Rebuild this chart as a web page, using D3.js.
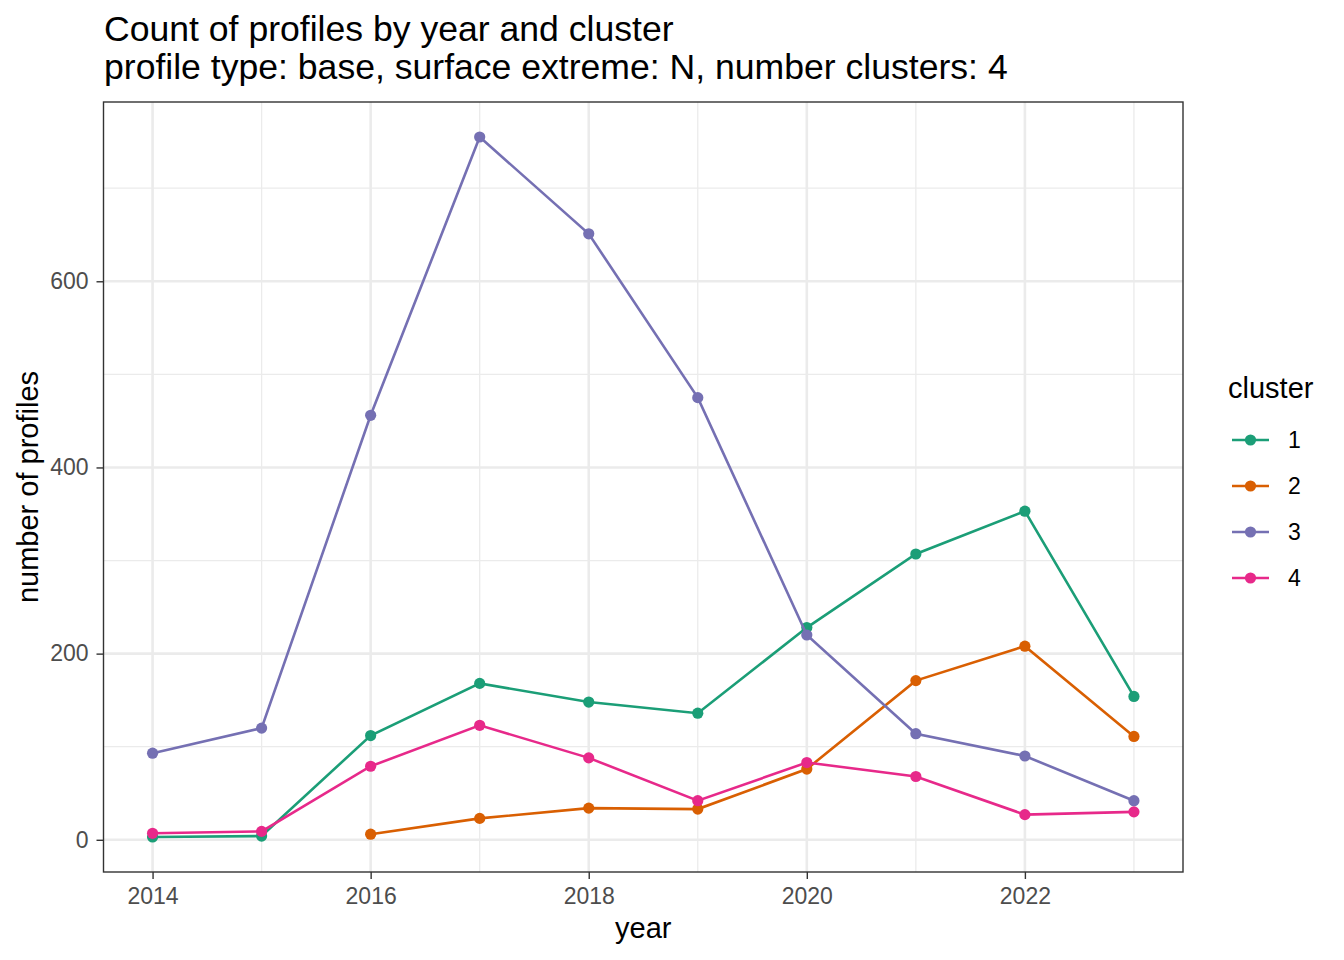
<!DOCTYPE html>
<html>
<head>
<meta charset="utf-8">
<script src="https://cdn.jsdelivr.net/npm/d3@7"></script>
<style>
  body { margin: 0; background: #fff; }
  text { font-family: "Liberation Sans", Arial, sans-serif; }
</style>
</head>
<body>
<svg id="chart" width="1344" height="960"></svg>
<script>
const years = [2014, 2015, 2016, 2017, 2018, 2019, 2020, 2021, 2022, 2023];
const clusters = ["1", "2", "3", "4"];
const colors = ["#1B9E77", "#D95F02", "#7570B3", "#E7298A"];

// counts per year, null = no profiles that year
const cluster1 = [3, 4, 112, 168, 148, 136, 228, 307, 353, 154];
const cluster2 = [null, null, 6, 23, 34, 33, 76, 171, 208, 111];
const cluster3 = [93, 120, 456, 755, 651, 475, 220, 114, 90, 42];
const cluster4 = [7, 9, 79, 123, 88, 42, 83, 68, 27, 30];

const xTicks = [2014, 2016, 2018, 2020, 2022];
const yTicks = [0, 200, 400, 600];

const series = [cluster1, cluster2, cluster3, cluster4].map((vals, i) => ({
  cluster: clusters[i],
  color: colors[i],
  points: years.map((y, j) => ({ year: y, count: vals[j] })).filter((d) => d.count !== null),
}));

const svg = d3.select("#chart");
const panel = { left: 103.5, right: 1183, top: 102, bottom: 872 };

// ggplot-style 5% expansion
const xExt = d3.extent(years);
const xPad = (xExt[1] - xExt[0]) * 0.05;
const x = d3.scaleLinear().domain([xExt[0] - xPad, xExt[1] + xPad]).range([panel.left, panel.right]);

const allCounts = series.flatMap((s) => s.points.map((p) => p.count));
const yExt = d3.extent(allCounts);
const yPad = (yExt[1] - yExt[0]) * 0.05;
const y = d3.scaleLinear().domain([yExt[0] - yPad, yExt[1] + yPad]).range([panel.bottom, panel.top]);

// grid
const grid = svg.append("g");
const minorX = xTicks.map((t) => t + 1);
const minorY = yTicks.map((t) => t + 100);
grid.selectAll(".mx").data(minorX).enter().append("line")
  .attr("x1", (d) => x(d)).attr("x2", (d) => x(d))
  .attr("y1", panel.top).attr("y2", panel.bottom)
  .attr("stroke", "#EBEBEB").attr("stroke-width", 1.3);
grid.selectAll(".my").data(minorY).enter().append("line")
  .attr("x1", panel.left).attr("x2", panel.right)
  .attr("y1", (d) => y(d)).attr("y2", (d) => y(d))
  .attr("stroke", "#EBEBEB").attr("stroke-width", 1.3);
grid.selectAll(".Mx").data(xTicks).enter().append("line")
  .attr("x1", (d) => x(d)).attr("x2", (d) => x(d))
  .attr("y1", panel.top).attr("y2", panel.bottom)
  .attr("stroke", "#EBEBEB").attr("stroke-width", 2.6);
grid.selectAll(".My").data(yTicks).enter().append("line")
  .attr("x1", panel.left).attr("x2", panel.right)
  .attr("y1", (d) => y(d)).attr("y2", (d) => y(d))
  .attr("stroke", "#EBEBEB").attr("stroke-width", 2.6);

// lines and points
const line = d3.line().x((d) => x(d.year)).y((d) => y(d.count));
const marks = svg.append("g");
series.forEach((s) => {
  marks.append("path")
    .datum(s.points)
    .attr("d", line)
    .attr("fill", "none")
    .attr("stroke", s.color)
    .attr("stroke-width", 2.6);
  marks.selectAll(null).data(s.points).enter().append("circle")
    .attr("cx", (d) => x(d.year))
    .attr("cy", (d) => y(d.count))
    .attr("r", 5.6)
    .attr("fill", s.color);
});

// panel border
svg.append("rect")
  .attr("x", panel.left).attr("y", panel.top)
  .attr("width", panel.right - panel.left).attr("height", panel.bottom - panel.top)
  .attr("fill", "none").attr("stroke", "#333333").attr("stroke-width", 1.4);

// axes
const xAxis = svg.append("g")
  .attr("transform", `translate(0,${panel.bottom})`)
  .call(d3.axisBottom(x).tickValues(xTicks).tickFormat(d3.format("d")).tickSize(7).tickPadding(8.5));
const yAxis = svg.append("g")
  .attr("transform", `translate(${panel.left},0)`)
  .call(d3.axisLeft(y).tickValues(yTicks).tickSize(7).tickPadding(8));
[xAxis, yAxis].forEach((a) => {
  a.select(".domain").remove();
  a.selectAll(".tick line").attr("stroke", "#333333").attr("stroke-width", 1.4);
  a.selectAll(".tick text").attr("fill", "#4D4D4D").style("font-size", "23px")
    .style("font-family", '"Liberation Sans", Arial, sans-serif');
});

// titles
svg.append("text").attr("x", 104).attr("y", 41)
  .style("font-size", "35.6px").text("Count of profiles by year and cluster");
svg.append("text").attr("x", 104).attr("y", 79)
  .style("font-size", "35.6px").text("profile type: base, surface extreme: N, number clusters: 4");

svg.append("text")
  .attr("x", (panel.left + panel.right) / 2).attr("y", 938)
  .attr("text-anchor", "middle").style("font-size", "29px").text("year");
svg.append("text")
  .attr("transform", `translate(38,${(panel.top + panel.bottom) / 2}) rotate(-90)`)
  .attr("text-anchor", "middle").style("font-size", "29px").text("number of profiles");

// legend
const legend = svg.append("g").attr("transform", "translate(1228,0)");
legend.append("text").attr("x", 0).attr("y", 398).style("font-size", "29px").text("cluster");
const items = legend.selectAll(".item").data(series).enter().append("g")
  .attr("transform", (d, i) => `translate(0,${440 + i * 46})`);
items.append("line").attr("x1", 4).attr("x2", 41).attr("y1", 0).attr("y2", 0)
  .attr("stroke", (d) => d.color).attr("stroke-width", 2.6);
items.append("circle").attr("cx", 22.5).attr("cy", 0).attr("r", 5.6)
  .attr("fill", (d) => d.color);
items.append("text").attr("x", 60).attr("y", 8).style("font-size", "23px")
  .text((d) => d.cluster);
</script>
</body>
</html>
